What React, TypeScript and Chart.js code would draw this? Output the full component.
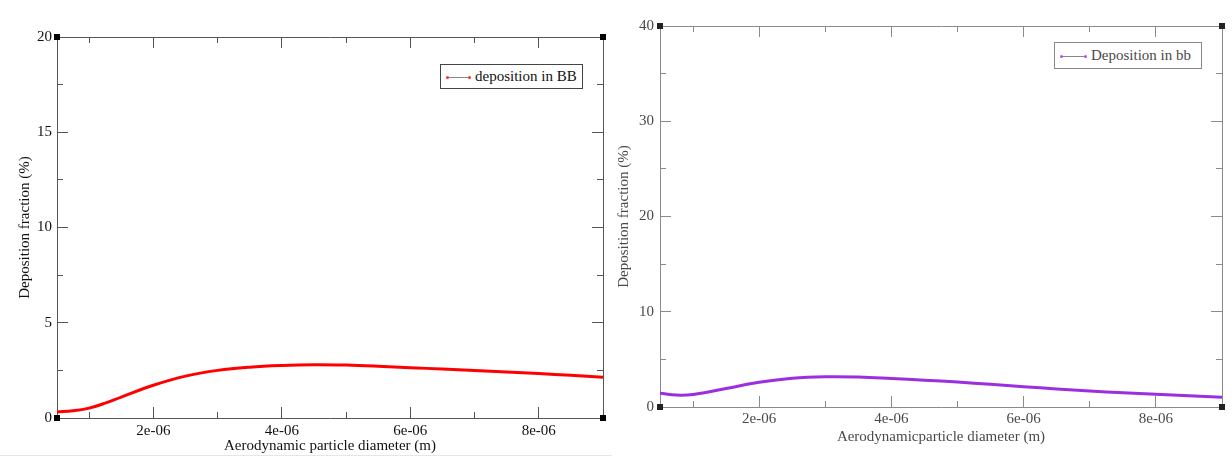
import React, { useEffect, useRef } from "react";
import { Chart, registerables } from "chart.js";
Chart.register(...registerables);

// ---- data (x in metres, y in %) ----
const diametersBB = [5e-7, 7.5e-7, 1e-6, 1.25e-6, 1.5e-6, 2e-6, 2.5e-6, 3e-6, 3.5e-6, 4e-6, 4.5e-6, 5e-6, 5.5e-6, 6e-6, 6.5e-6, 7e-6, 7.5e-6, 8e-6, 8.5e-6, 9e-6];
const depositionBB = [0.32, 0.38, 0.52, 0.78, 1.1, 1.72, 2.2, 2.5, 2.67, 2.76, 2.8, 2.78, 2.72, 2.64, 2.57, 2.49, 2.41, 2.33, 2.24, 2.14];

const diametersbb = [5e-7, 7.5e-7, 1e-6, 1.5e-6, 2e-6, 2.5e-6, 3e-6, 3.5e-6, 4e-6, 4.5e-6, 5e-6, 5.5e-6, 6e-6, 6.5e-6, 7e-6, 7.5e-6, 8e-6, 8.5e-6, 9e-6];
const depositionbb = [1.45, 1.25, 1.32, 1.95, 2.6, 3.02, 3.18, 3.15, 3.0, 2.82, 2.62, 2.38, 2.13, 1.9, 1.68, 1.5, 1.33, 1.17, 1.02];

const xMin = 5e-7;
const xMax = 9e-6;
const xMajorStep = 2e-6;
const xMinorStep = 1e-6;

const leftYMax = 20;
const leftYMajor = 5;
const leftYMinor = 2.5;
const rightYMax = 40;
const rightYMajor = 10;
const rightYMinor = 5;

const xTitleLeft = "Aerodynamic particle diameter (m)";
const xTitleRight = "Aerodynamicparticle diameter (m)";
const yTitle = "Deposition fraction (%)";
const legendLeft = "deposition in BB";
const legendRight = "Deposition in bb";

const FONT = "'Liberation Serif', 'Times New Roman', serif";

const formatX = (v: number) => `${Math.round(v * 1e6)}e-06`;

const cornerPlugin = {
  id: "corners",
  afterDraw(chart: any) {
    const { ctx, chartArea } = chart;
    const { left, right, top, bottom } = chartArea;
    const c = chart.options.plugins.corners?.color || "#000";
    ctx.save();
    ctx.fillStyle = c;
    for (const [x, y] of [[left, top], [right, top], [left, bottom], [right, bottom]]) {
      ctx.fillRect(Math.round(x) - 3, Math.round(y) - 3, 6, 6);
    }
    ctx.restore();
  },
};

type PanelCfg = {
  xs: number[];
  ys: number[];
  color: string;
  yMax: number;
  yMajor: number;
  yMinor: number;
  xTitle: string;
  textColor: string;
  axisColor: string;
  padLeftAxis: number;
  padRight: number;
  padTop: number;
  bottomH: number;
  xTickPad: number;
  yTickPad: number;
  xTitlePad: number;
  yTitlePad: number;
  cornerColor: string;
};

function buildConfig(p: PanelCfg): any {
  const font = { family: FONT, size: 15 };
  const grid = (len: number) => ({
    drawOnChartArea: false,
    drawTicks: true,
    tickLength: len,
    tickColor: p.axisColor,
    tickWidth: 1,
  });
  const xBase = { type: "linear", min: xMin, max: xMax };
  const yBase = { type: "linear", min: 0, max: p.yMax };
  return {
    type: "line",
    data: {
      datasets: [
        {
          data: p.xs.map((x, i) => ({ x, y: p.ys[i] })),
          borderColor: p.color,
          backgroundColor: p.color,
          borderWidth: 3,
          pointRadius: 0,
          tension: 0.4,
          xAxisID: "x",
          yAxisID: "y",
        },
      ],
    },
    options: {
      animation: false,
      responsive: false,
      maintainAspectRatio: false,
      layout: { padding: { left: 0, right: p.padRight, top: p.padTop, bottom: 0 } },
      plugins: { legend: { display: false }, tooltip: { enabled: false }, corners: { color: p.cornerColor } },
      scales: {
        x: {
          ...xBase,
          position: "bottom",
          weight: 1,
          ticks: {
            stepSize: xMajorStep,
            includeBounds: false,
            padding: p.xTickPad,
            color: p.textColor,
            font,
            maxRotation: 0,
            autoSkip: false,
            callback: (v: number) => formatX(v),
          },
          grid: grid(-11),
          border: { display: true, color: p.axisColor, width: 1 },
          title: { display: true, text: p.xTitle, color: p.textColor, font, padding: { top: 0, bottom: p.xTitlePad } },
          afterFit: (s: any) => { s.height = p.bottomH; },
        },
        xm: {
          ...xBase,
          position: "bottom",
          weight: 0,
          ticks: { display: false, stepSize: xMinorStep, includeBounds: false },
          grid: grid(-6),
          border: { display: false },
          afterFit: (s: any) => { s.height = 0; },
        },
        xt: {
          ...xBase,
          position: "top",
          weight: 1,
          ticks: { display: false, stepSize: xMajorStep, includeBounds: false },
          grid: grid(-11),
          border: { display: true, color: p.axisColor, width: 1 },
          afterFit: (s: any) => { s.height = 0; },
        },
        xtm: {
          ...xBase,
          position: "top",
          weight: 0,
          ticks: { display: false, stepSize: xMinorStep, includeBounds: false },
          grid: grid(-6),
          border: { display: false },
          afterFit: (s: any) => { s.height = 0; },
        },
        y: {
          ...yBase,
          position: "left",
          weight: 1,
          ticks: {
            stepSize: p.yMajor,
            includeBounds: false,
            padding: p.yTickPad,
            color: p.textColor,
            font,
            autoSkip: false,
            callback: (v: number) => String(v),
          },
          grid: grid(-11),
          border: { display: true, color: p.axisColor, width: 1 },
          title: { display: true, text: yTitle, color: p.textColor, font, padding: { top: p.yTitlePad, bottom: 0 } },
          afterFit: (s: any) => { s.width = p.padLeftAxis; },
        },
        ym: {
          ...yBase,
          position: "left",
          weight: 0,
          ticks: { display: false, stepSize: p.yMinor, includeBounds: false },
          grid: grid(-6),
          border: { display: false },
          afterFit: (s: any) => { s.width = 0; },
        },
        yr: {
          ...yBase,
          position: "right",
          weight: 1,
          ticks: { display: false, stepSize: p.yMajor, includeBounds: false },
          grid: grid(-11),
          border: { display: true, color: p.axisColor, width: 1 },
          afterFit: (s: any) => { s.width = 0; },
        },
        yrm: {
          ...yBase,
          position: "right",
          weight: 0,
          ticks: { display: false, stepSize: p.yMinor, includeBounds: false },
          grid: grid(-6),
          border: { display: false },
          afterFit: (s: any) => { s.width = 0; },
        },
      },
    },
    plugins: [cornerPlugin],
  };
}

function Panel({ cfg, width, height }: { cfg: PanelCfg; width: number; height: number }) {
  const ref = useRef<HTMLCanvasElement | null>(null);
  useEffect(() => {
    if (!ref.current) return;
    const chart = new Chart(ref.current, buildConfig(cfg));
    return () => chart.destroy();
  }, []);
  return <canvas ref={ref} width={width} height={height} style={{ display: "block", width, height }} />;
}

const leftCfg: PanelCfg = {
  xs: diametersBB,
  ys: depositionBB,
  color: "#ff0000",
  yMax: leftYMax,
  yMajor: leftYMajor,
  yMinor: leftYMinor,
  xTitle: xTitleLeft,
  textColor: "#111",
  axisColor: "#555",
  padLeftAxis: 57,
  padRight: 9,
  padTop: 37,
  bottomH: 39,
  xTickPad: 15,
  yTickPad: 16,
  xTitlePad: 2,
  yTitlePad: 16,
  cornerColor: "#000",
};

const rightCfg: PanelCfg = {
  xs: diametersbb,
  ys: depositionbb,
  color: "#9b2fe0",
  yMax: rightYMax,
  yMajor: rightYMajor,
  yMinor: rightYMinor,
  xTitle: xTitleRight,
  textColor: "#4a4a4a",
  axisColor: "#8a8a8a",
  padLeftAxis: 48,
  padRight: 10,
  padTop: 13,
  bottomH: 50,
  xTickPad: 14,
  yTickPad: 17,
  xTitlePad: 11,
  yTitlePad: 3,
  cornerColor: "#222",
};

function Legend(props: { left: number; top: number; width: number; height: number; lineStart: number; lineEnd: number; textLeft: number; text: string; dot: string; textColor: string; border: string }) {
  const { left, top, width, height, lineStart, lineEnd, textLeft, text, dot, textColor, border } = props;
  const mid = height / 2 - 1;
  return (
    <div style={{ position: "absolute", left, top, width, height, boxSizing: "border-box", border: `1px solid ${border}`, background: "#fff" }}>
      <div style={{ position: "absolute", left: lineStart, top: mid, width: lineEnd - lineStart, height: 1, background: "#888" }} />
      <div style={{ position: "absolute", left: lineStart - 1, top: mid - 1, width: 3, height: 3, borderRadius: 2, background: dot }} />
      <div style={{ position: "absolute", left: lineEnd - 2, top: mid - 1, width: 3, height: 3, borderRadius: 2, background: dot }} />
      <div style={{ position: "absolute", left: textLeft, top: 0, height: height - 2, lineHeight: `${height - 2}px`, fontFamily: FONT, fontSize: 15, color: textColor, whiteSpace: "nowrap" }}>{text}</div>
    </div>
  );
}

export default function App() {
  return (
    <div style={{ position: "absolute", left: 0, top: 0, width: 1232, height: 457, background: "#fff", overflow: "hidden" }}>
      <div style={{ position: "absolute", left: 0, top: 0 }}>
        <Panel cfg={leftCfg} width={612} height={457} />
      </div>
      <div style={{ position: "absolute", left: 612, top: 0 }}>
        <Panel cfg={rightCfg} width={620} height={457} />
      </div>
      <div style={{ position: "absolute", left: 0, top: 455, width: 612, height: 1, background: "#e6e6e6" }} />
      <Legend left={440} top={64} width={143} height={25} lineStart={6} lineEnd={29} textLeft={34} text={legendLeft} dot="#ff3030" textColor="#111" border="#444" />
      <Legend left={1054} top={42} width={148} height={27} lineStart={6} lineEnd={31} textLeft={36} text={legendRight} dot="#b050f0" textColor="#4a4a4a" border="#888" />
    </div>
  );
}
